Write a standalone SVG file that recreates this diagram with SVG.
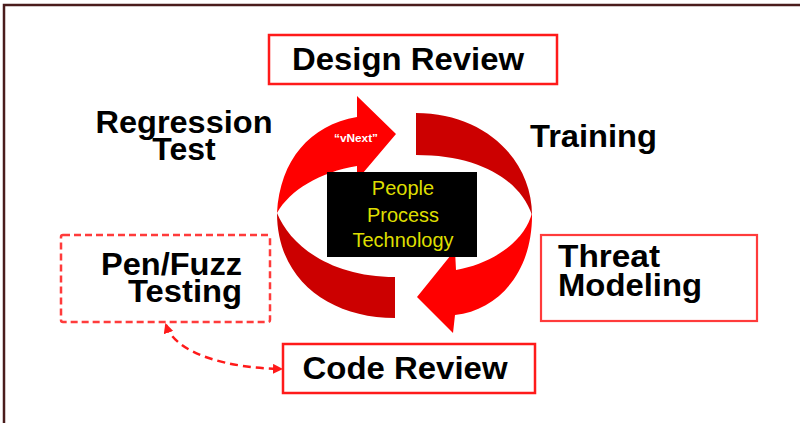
<svg xmlns="http://www.w3.org/2000/svg" width="800" height="423" viewBox="0 0 800 423">
<defs>
<style>
.lbl{font-family:"Liberation Sans",Arial,sans-serif;font-weight:bold;font-size:32px;fill:#000}
.box{fill:#fff;stroke:#ff1a1a;stroke-width:2.5}
.bright{fill:#ff0000}
.dark{fill:#cc0000}
</style>
<marker id="ah" viewBox="0 0 10 10" refX="8" refY="5" markerWidth="4" markerHeight="4" orient="auto-start-reverse">
<path d="M0,0 L10,5 L0,10 Z" fill="#ff1a1a"/>
</marker>
</defs>
<rect x="0" y="0" width="800" height="423" fill="#fff"/>
<rect x="4" y="5" width="830" height="450" fill="none" stroke="#4a1c1c" stroke-width="2.5"/>

<g id="cycle">
<path class="dark" d="M277,213 C277,280 330,318 395,318 L395,277 C330,277 290,245 277,213 Z"/>
<path class="bright" d="M277,213 C280,160 310,125 357,117 L357,96 L396,134 L357,180 L357,166 C320,172 290,190 277,213 Z"/>
<path class="dark" d="M416,113 C485,113 532,160 532,215 C520,180 480,155 416,155 Z"/>
<path class="bright" d="M532,213 C533,270 500,310 455,315 L453,333 L417,297 L455,250 L456,270 C495,263 525,240 532,213 Z"/>
<text x="356" y="142" text-anchor="middle" font-family="Liberation Sans,Arial,sans-serif" font-weight="bold" font-size="10" fill="#fff" textLength="44" lengthAdjust="spacingAndGlyphs">“vNext”</text>
</g>

<g id="center">
<rect x="327" y="172" width="150" height="85" fill="#000"/>
<g font-family="Liberation Sans,Arial,sans-serif" font-size="20" fill="#dede00" text-anchor="middle">
<text x="403" y="195">People</text>
<text x="403" y="222">Process</text>
<text x="403" y="247">Technology</text>
</g>
</g>

<g id="design-review">
<rect class="box" x="269" y="35" width="288" height="49"/>
<text class="lbl" x="408" y="70" text-anchor="middle" textLength="232" lengthAdjust="spacingAndGlyphs">Design Review</text>
</g>

<g id="training">
<text class="lbl" x="530" y="147" textLength="127" lengthAdjust="spacingAndGlyphs">Training</text>
</g>

<g id="regression-test">
<text class="lbl" x="184" y="133" text-anchor="middle" textLength="177" lengthAdjust="spacingAndGlyphs">Regression</text>
<text class="lbl" x="184" y="160" text-anchor="middle">Test</text>
</g>

<g id="threat-modeling">
<rect x="541" y="235" width="216" height="86" fill="#fff" stroke="#ff3b3b" stroke-width="2.2"/>
<text class="lbl" x="558" y="267" textLength="102" lengthAdjust="spacingAndGlyphs">Threat</text>
<text class="lbl" x="558" y="296" textLength="144" lengthAdjust="spacingAndGlyphs">Modeling</text>
</g>

<g id="pen-fuzz">
<rect x="61" y="235" width="209" height="87" rx="2" fill="#fff" stroke="#ff3b3b" stroke-width="2.5" stroke-dasharray="7 4"/>
<text class="lbl" x="242" y="275" text-anchor="end" textLength="141" lengthAdjust="spacingAndGlyphs">Pen/Fuzz</text>
<text class="lbl" x="242" y="302" text-anchor="end" textLength="114" lengthAdjust="spacingAndGlyphs">Testing</text>
</g>

<g id="code-review">
<rect class="box" x="283" y="344" width="252" height="49"/>
<text class="lbl" x="405" y="379" text-anchor="middle" textLength="205" lengthAdjust="spacingAndGlyphs">Code Review</text>
</g>

<g id="connectors">
<path d="M166,325 C176,355 230,368 281,369" fill="none" stroke="#ff1a1a" stroke-width="2.5" stroke-dasharray="8 5" marker-start="url(#ah)" marker-end="url(#ah)"/>
</g>
</svg>
